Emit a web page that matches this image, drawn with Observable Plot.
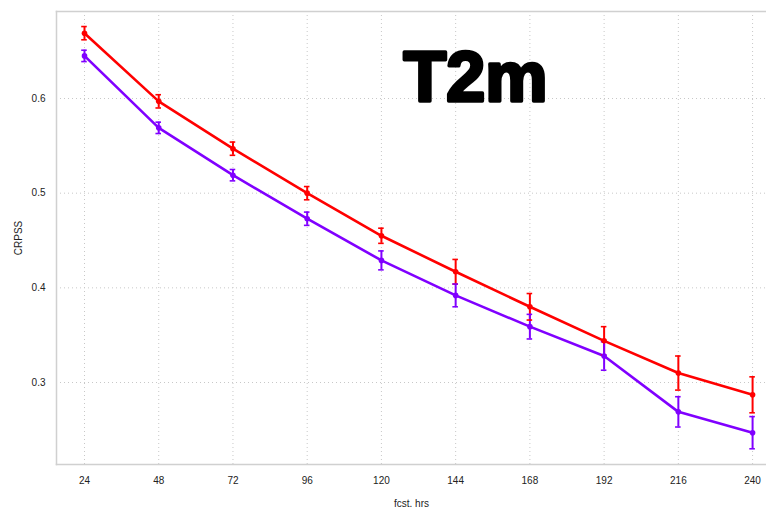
<!DOCTYPE html>
<html>
<head>
<meta charset="utf-8">
<script src="https://cdn.jsdelivr.net/npm/d3@7"></script>
<script src="https://cdn.jsdelivr.net/npm/@observablehq/plot@0.6"></script>
<style>
  html, body { margin: 0; padding: 0; background: #fff; }
  #chart { width: 766px; height: 513px; }
</style>
</head>
<body>
<div id="chart"></div>
<script>
const hours = [24, 48, 72, 96, 120, 144, 168, 192, 216, 240];
const redValues = [0.669, 0.597, 0.547, 0.500, 0.455, 0.417, 0.380, 0.344, 0.310, 0.287];
const redErrors = [0.007, 0.007, 0.007, 0.007, 0.008, 0.013, 0.014, 0.015, 0.018, 0.019];
const purpleValues = [0.645, 0.569, 0.519, 0.473, 0.429, 0.392, 0.359, 0.328, 0.269, 0.247];
const purpleErrors = [0.006, 0.006, 0.006, 0.007, 0.010, 0.012, 0.013, 0.015, 0.016, 0.017];
const yTicks = [0.3, 0.4, 0.5, 0.6];
const seriesNames = ["series A", "series B"];
const seriesColors = ["#ff0000", "#8000ff"];
const titleText = "T2m";
const yLabel = "CRPSS";
const xLabel = "fcst. hrs";

const data = [];
hours.forEach((h, i) => {
  data.push({h, v: redValues[i], e: redErrors[i], s: seriesNames[0]});
  data.push({h, v: purpleValues[i], e: purpleErrors[i], s: seriesNames[1]});
});

const chart = Plot.plot({
  width: 766,
  height: 513,
  marginLeft: 56,
  marginRight: 0,
  marginTop: 11,
  marginBottom: 49,
  style: {fontFamily: "Liberation Sans, Arial, sans-serif", fontSize: "10px", color: "#333", background: "#fff"},
  x: {domain: [14.95, 244.5]},
  y: {domain: [0.2134, 0.6919]},
  color: {type: "ordinal", domain: seriesNames, range: seriesColors},
  marks: [
    Plot.gridX(hours, {stroke: "#c8c8c8", strokeOpacity: 1, strokeDasharray: "1,3"}),
    Plot.gridY(yTicks, {stroke: "#c8c8c8", strokeOpacity: 1, strokeDasharray: "1,3"}),
    Plot.frame({anchor: "left", stroke: "#d0d0d0", strokeWidth: 1.5}),
    Plot.frame({anchor: "top", stroke: "#d0d0d0", strokeWidth: 1.5}),
    Plot.frame({anchor: "bottom", stroke: "#d0d0d0", strokeWidth: 1.5}),
    Plot.axisX(hours, {tickSize: 0, tickPadding: 12, tickFormat: d => String(d), label: xLabel, labelAnchor: "center", labelArrow: "none", labelOffset: 42, fill: "#222"}),
    Plot.axisY(yTicks, {tickSize: 0, tickPadding: 11, tickFormat: d => d.toFixed(1), label: yLabel, labelAnchor: "center", labelArrow: "none", labelOffset: 42, fill: "#222"}),
    Plot.line(data, {x: "h", y: "v", z: "s", stroke: "s", strokeWidth: 2.6}),
    Plot.ruleX(data, {x: "h", y1: d => d.v - d.e, y2: d => d.v + d.e, stroke: "s", strokeWidth: 2}),
    Plot.ruleY(data, {y: d => d.v - d.e, x1: d => d.h - 0.9, x2: d => d.h + 0.9, stroke: "s", strokeWidth: 1.6}),
    Plot.ruleY(data, {y: d => d.v + d.e, x1: d => d.h - 0.9, x2: d => d.h + 0.9, stroke: "s", strokeWidth: 1.6}),
    Plot.dot(data, {x: "h", y: "v", fill: "s", r: 2.8}),
    Plot.text([titleText], {frameAnchor: "top-left", dx: 347, dy: 67, textAnchor: "start", lineAnchor: "middle", fontSize: 70, fontWeight: 900, fill: "#000", stroke: "#000", strokeWidth: 3.5, strokeLinejoin: "round", fontFamily: "Liberation Sans, Arial, sans-serif"})
  ]
});
document.getElementById("chart").appendChild(chart);
</script>
</body>
</html>
